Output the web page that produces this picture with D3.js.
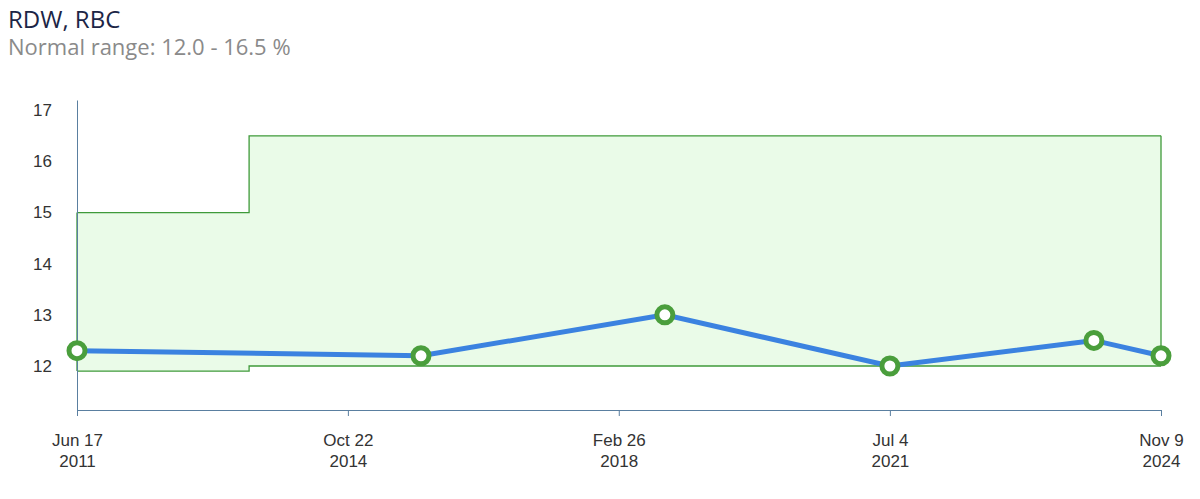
<!DOCTYPE html>
<html><head><meta charset="utf-8">
<script src="https://cdn.jsdelivr.net/npm/d3@7"></script>
<style>body{margin:0;background:#fff;font-family:"Open Sans",Arial,sans-serif}</style>
</head><body><svg id="c" width="1200" height="499"></svg>
<script>
const title = "RDW, RBC";
const subtitle = "Normal range: 12.0 - 16.5 %";
const dates = ["2011-06-17","2015-09-17","2018-09-22","2021-07-04","2024-01-11","2024-11-09"];
const values = [12.3, 12.2, 13.0, 12.0, 12.5, 12.2];
const rangeDates = ["2011-06-17","2013-08-02","2024-11-09"];
const rangeLow = [11.9, 12.0, 12.0];
const rangeHigh = [15.0, 16.5, 16.5];
const tickDates = ["2011-06-17","2014-10-22","2018-02-26","2021-07-04","2024-11-09"];
const yTicks = [12,13,14,15,16,17];

const p = d3.timeParse("%Y-%m-%d");
const svg = d3.select("#c");
const x = d3.scaleTime().domain([p(dates[0]), p(dates[dates.length-1])]).range([77,1161]);
const y = d3.scaleLinear().domain([11.14, 17.2]).range([410,100]);

svg.append("text").attr("x",8).attr("y",28).attr("font-size",24).attr("fill","#1c2546").text(title);
svg.append("text").attr("x",8).attr("y",55).attr("font-size",22).attr("fill","#8a8a8a").text(subtitle);

const rd = rangeDates.map(p);
const area = d3.area().curve(d3.curveStepAfter).x(d=>x(d.d)).y0(d=>y(d.l)).y1(d=>y(d.h));
const rdata = rd.map((d,i)=>({d,l:rangeLow[i],h:rangeHigh[i]}));
svg.append("path").datum(rdata).attr("d",area).attr("fill","#eafbe8");
svg.append("path").datum(rdata).attr("fill","none").attr("stroke","#3f9a3a").attr("stroke-width",1.3)
 .attr("d",d3.line().curve(d3.curveStepAfter).x(d=>x(d.d)).y(d=>y(d.h)));
svg.append("path").datum(rdata).attr("fill","none").attr("stroke","#3f9a3a").attr("stroke-width",1.3)
 .attr("d",d3.line().curve(d3.curveStepAfter).x(d=>x(d.d)).y(d=>y(d.l)));
svg.append("line").attr("x1",x(rd[2])).attr("x2",x(rd[2])).attr("y1",y(16.5)).attr("y2",y(12)).attr("stroke","#3f9a3a").attr("stroke-width",1.3);
svg.append("line").attr("x1",x(rd[0])).attr("x2",x(rd[0])).attr("y1",y(15)).attr("y2",y(11.9)).attr("stroke","#3f9a3a").attr("stroke-width",1.3);

const ya = svg.append("g").attr("transform","translate(77,0)").call(d3.axisLeft(y).tickValues(yTicks).tickFormat(d3.format("d")).tickSize(0).tickPadding(25));
ya.select(".domain").attr("stroke","#5a7fa0");
ya.selectAll("text").attr("font-size",17).attr("fill","#333").attr("font-family","Arial, sans-serif");
const xa = svg.append("g").attr("transform","translate(0,410)").call(d3.axisBottom(x).tickValues(tickDates.map(p)).tickSize(6).tickFormat(()=>""));
xa.select(".domain").attr("stroke","#5a7fa0");
xa.selectAll("line").attr("stroke","#5a7fa0");
const fm = d3.timeFormat("%b %-d"), fy = d3.timeFormat("%Y");
xa.selectAll(".tick").each(function(d){
  const t = d3.select(this).append("text").attr("fill","#333").attr("font-size",17).attr("font-family","Arial, sans-serif").attr("text-anchor","middle");
  t.append("tspan").attr("x",0).attr("y",36).text(fm(d));
  t.append("tspan").attr("x",0).attr("y",57).text(fy(d));
});

const pts = dates.map((d,i)=>({d:p(d),v:values[i]}));
svg.append("path").datum(pts).attr("fill","none").attr("stroke","#3b82e0").attr("stroke-width",5)
 .attr("d",d3.line().x(d=>x(d.d)).y(d=>y(d.v)));
svg.selectAll("circle.pt").data(pts).join("circle").attr("cx",d=>x(d.d)).attr("cy",d=>y(d.v)).attr("r",8)
 .attr("fill","#fff").attr("stroke","#4a9e3c").attr("stroke-width",5);
</script></body></html>
